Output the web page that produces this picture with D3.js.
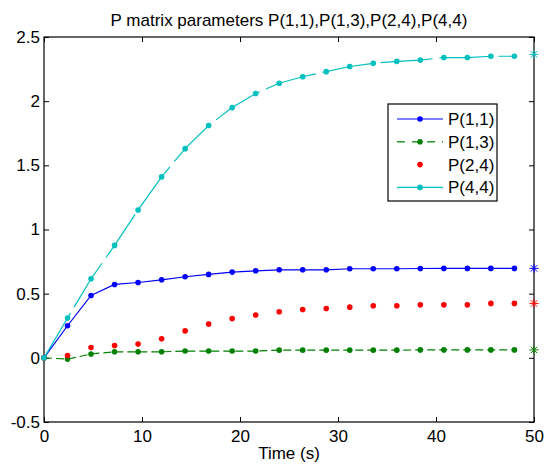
<!DOCTYPE html>
<html>
<head>
<meta charset="utf-8">
<script src="https://cdn.jsdelivr.net/npm/d3@7"></script>
<style>
  body { margin: 0; background: #fff; }
  svg { display: block; font-family: "Liberation Sans", Arial, sans-serif; }
  .tick text { font-size: 17px; fill: #000; }
</style>
</head>
<body>
<svg class="chart"></svg>
<script>
// sample times (s)
var time = [0, 2.4, 4.8, 7.2, 9.6, 12, 14.4, 16.8, 19.2, 21.6, 24, 26.4, 28.8, 31.2, 33.6, 36, 38.4, 40.8, 43.2, 45.6, 48];

// P matrix entries
var p11 = [0, 0.25, 0.486, 0.572, 0.587, 0.608, 0.632, 0.65, 0.668, 0.678, 0.686, 0.686, 0.686, 0.694, 0.694, 0.694, 0.696, 0.697, 0.697, 0.697, 0.697];
var p13 = [0, -0.01, 0.03, 0.047, 0.047, 0.047, 0.053, 0.053, 0.053, 0.053, 0.06, 0.06, 0.06, 0.06, 0.06, 0.06, 0.062, 0.062, 0.062, 0.062, 0.062];
var p24 = [0, 0.018, 0.08, 0.096, 0.107, 0.148, 0.21, 0.263, 0.307, 0.333, 0.359, 0.377, 0.385, 0.395, 0.406, 0.406, 0.413, 0.413, 0.413, 0.424, 0.424];
var p44 = [0, 0.31, 0.616, 0.876, 1.152, 1.41, 1.63, 1.81, 1.95, 2.06, 2.14, 2.19, 2.23, 2.27, 2.295, 2.31, 2.32, 2.34, 2.34, 2.35, 2.35];

// steady state values, marked with * at t = 50
var finalTime = 50;
var finalValues = [0.697, 0.062, 0.424, 2.365];

var names = ["P(1,1)", "P(1,3)", "P(2,4)", "P(4,4)"];
var xTicks = [0, 10, 20, 30, 40, 50];
var yTicks = [-0.5, 0, 0.5, 1, 1.5, 2, 2.5];

var series = [
  {name: names[0], values: p11, color: "#0000ff", line: true, dash: null},
  {name: names[1], values: p13, color: "#008000", line: true, dash: "8,4"},
  {name: names[2], values: p24, color: "#ff0000", line: false, dash: null},
  {name: names[3], values: p44, color: "#00bfbf", line: true, dash: "52,7"}
];

var margin = {top: 37, right: 10, bottom: 46, left: 44},
    width = 534 - margin.left,
    height = 422 - margin.top;

var svg = d3.select('.chart')
  .attr('width', 544)
  .attr('height', 468);

var chart = svg.append('g')
  .attr('transform', 'translate(' + margin.left + ',' + margin.top + ')');

var x = d3.scaleLinear().domain([0, 50]).range([0, width]);
var y = d3.scaleLinear().domain([-0.5, 2.5]).range([height, 0]);

// axes, ticks pointing inward like matlab
var fmt = function (d) { return String(d); };
chart.append('g')
  .attr('transform', 'translate(0,' + height + ')')
  .call(d3.axisBottom(x).tickValues(xTicks).tickFormat(fmt).tickSizeInner(-5).tickSizeOuter(0).tickPadding(8))
  .call(function (g) { g.select('.domain').remove(); });
chart.append('g')
  .call(d3.axisTop(x).tickValues(xTicks).tickFormat('').tickSizeInner(-5).tickSizeOuter(0))
  .call(function (g) { g.select('.domain').remove(); });
chart.append('g')
  .call(d3.axisLeft(y).tickValues(yTicks).tickFormat(fmt).tickSizeInner(-5).tickSizeOuter(0).tickPadding(4))
  .call(function (g) { g.select('.domain').remove(); });
chart.append('g')
  .attr('transform', 'translate(' + width + ',0)')
  .call(d3.axisRight(y).tickValues(yTicks).tickFormat('').tickSizeInner(-5).tickSizeOuter(0))
  .call(function (g) { g.select('.domain').remove(); });

chart.selectAll('.tick line').attr('stroke', '#000');

chart.append('rect')
  .attr('width', width)
  .attr('height', height)
  .attr('fill', 'none')
  .attr('stroke', '#000')
  .attr('stroke-width', 1.2);

// lines + dots
var line = d3.line()
  .x(function (d, i) { return x(time[i]); })
  .y(function (d) { return y(d); });

series.forEach(function (s, k) {
  if (s.line) {
    chart.append('path')
      .datum(s.values)
      .attr('d', line)
      .attr('fill', 'none')
      .attr('stroke', s.color)
      .attr('stroke-width', 1.2)
      .attr('stroke-dasharray', s.dash);
  }
  chart.selectAll('.dot' + k)
    .data(s.values)
    .enter().append('circle')
    .attr('cx', function (d, i) { return x(time[i]); })
    .attr('cy', function (d) { return y(d); })
    .attr('r', 2.8)
    .attr('fill', s.color);

  // asterisk marker at the end
  var sx = x(finalTime), sy = y(finalValues[k]), r = 4.5, q = 3.2;
  chart.append('path')
    .attr('d', 'M' + (sx - r) + ',' + sy + 'H' + (sx + r) +
               'M' + sx + ',' + (sy - r) + 'V' + (sy + r) +
               'M' + (sx - q) + ',' + (sy - q) + 'L' + (sx + q) + ',' + (sy + q) +
               'M' + (sx - q) + ',' + (sy + q) + 'L' + (sx + q) + ',' + (sy - q))
    .attr('stroke', s.color)
    .attr('stroke-width', 1)
    .attr('fill', 'none');
});

// title and label
svg.append('text')
  .attr('x', margin.left + width / 2)
  .attr('y', 26)
  .attr('text-anchor', 'middle')
  .style('font-size', '17px')
  .text('P matrix parameters ' + names.join(','));

svg.append('text')
  .attr('x', margin.left + width / 2)
  .attr('y', 459)
  .attr('text-anchor', 'middle')
  .style('font-size', '17px')
  .text('Time (s)');

// legend
var legend = svg.append('g').attr('transform', 'translate(388,104)');
legend.append('rect')
  .attr('width', 109)
  .attr('height', 97)
  .attr('fill', '#fff')
  .attr('stroke', '#000')
  .attr('stroke-width', 1.2);

series.forEach(function (s, k) {
  var ly = 15 + k * 22.8;
  if (s.line) {
    legend.append('line')
      .attr('x1', 9).attr('x2', 55)
      .attr('y1', ly).attr('y2', ly)
      .attr('stroke', s.color)
      .attr('stroke-width', 1.2)
      .attr('stroke-dasharray', s.dash === "8,4" ? "8,7" : null);
  }
  legend.append('circle')
    .attr('cx', 32).attr('cy', ly)
    .attr('r', 2.8)
    .attr('fill', s.color);
  legend.append('text')
    .attr('x', 60)
    .attr('y', ly + 6)
    .style('font-size', '17px')
    .text(s.name);
});
</script>
</body>
</html>
